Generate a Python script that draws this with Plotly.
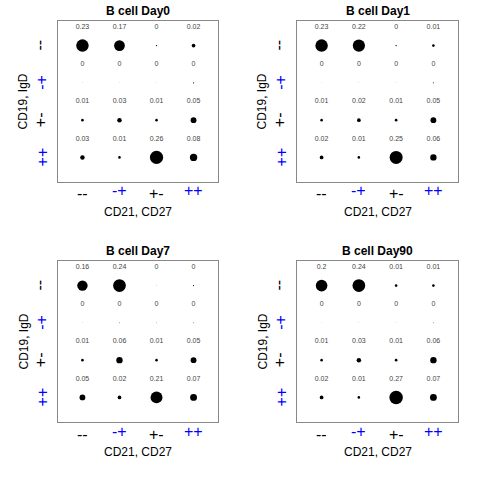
import numpy as np
import plotly.graph_objects as go

# categories (same for both axes)
cats = ["--", "-+", "+-", "++"]
cat_colors = ["black", "blue", "black", "blue"]
titles = ["B cell Day0", "B cell Day1", "B cell Day7", "B cell Day90"]

# fractions, rows = CD19,IgD ; cols = CD21,CD27 (tiny values)
day0 = [[0.23, 0.17, 0.003, 0.02],
        [0.0003, 0.0003, 0.0003, 0.002],
        [0.01, 0.03, 0.01, 0.05],
        [0.03, 0.01, 0.26, 0.08]]
day1 = [[0.23, 0.22, 0.003, 0.01],
        [0.0003, 0.0003, 0.0003, 0.0015],
        [0.01, 0.02, 0.01, 0.05],
        [0.02, 0.01, 0.25, 0.06]]
day7 = [[0.16, 0.24, 0.0003, 0.002],
        [0.0003, 0.001, 0.0005, 0.001],
        [0.01, 0.06, 0.01, 0.05],
        [0.05, 0.02, 0.21, 0.07]]
day90 = [[0.2, 0.24, 0.01, 0.01],
         [0.0003, 0.0003, 0.0003, 0.001],
         [0.01, 0.03, 0.01, 0.06],
         [0.02, 0.01, 0.27, 0.07]]
panels = [day0, day1, day7, day90]

FONT = "Liberation Sans, Arial, sans-serif"
W = H = 480
# panel boxes in pixels (left, right, top, bottom)
boxes = [(58, 218, 21, 182), (297, 458, 21, 182),
         (58, 218, 261, 422), (297, 458, 261, 422)]

fig = go.Figure()
annotations = []


def note(**kw):
    kw.setdefault("showarrow", False)
    kw.setdefault("xanchor", "center")
    kw.setdefault("yanchor", "middle")
    annotations.append(kw)


for k, (vals, title, box) in enumerate(zip(panels, titles, boxes)):
    n = "" if k == 0 else str(k + 1)
    xa, ya = "x" + n, "y" + n
    v = np.array(vals)
    rows, cols = np.meshgrid(np.arange(1, 5), np.arange(1, 5), indexing="ij")
    xs, ys, vv = cols.ravel(), rows.ravel(), v.ravel()

    fig.add_trace(go.Scatter(
        x=xs, y=ys, mode="markers", xaxis=xa, yaxis=ya,
        marker=dict(size=26 * np.sqrt(vv), color="black", opacity=1,
                    line=dict(width=0)),
        hoverinfo="skip", showlegend=False))
    fig.add_trace(go.Scatter(
        x=xs, y=ys - 0.5, mode="text", xaxis=xa, yaxis=ya,
        text=[f"{round(x, 2):g}" for x in vv],
        textfont=dict(size=7, color="#444444", family=FONT),
        hoverinfo="skip", showlegend=False))

    l, r, t, b = box
    fig.update_layout({
        "xaxis" + n: dict(domain=[l / W, r / W], range=[0.34, 4.66],
                          showticklabels=False, showgrid=False, zeroline=False,
                          showline=True, mirror=True, linecolor="#888888",
                          linewidth=1, ticks="", anchor=ya, fixedrange=True),
        "yaxis" + n: dict(domain=[1 - b / H, 1 - t / H], range=[4.66, 0.34],
                          showticklabels=False, showgrid=False, zeroline=False,
                          showline=True, mirror=True, linecolor="#888888",
                          linewidth=1, ticks="", anchor=xa, fixedrange=True),
    })

    # panel title
    note(text="<b>" + title + "</b>", xref=xa + " domain", x=0.5,
         yref=ya + " domain", y=1, yshift=10,
         font=dict(size=12, color="black", family=FONT))
    # axis titles
    note(text="CD21, CD27", xref=xa + " domain", x=0.5,
         yref=ya + " domain", y=0, yshift=-30,
         font=dict(size=12, color="black", family=FONT))
    note(text="CD19, IgD", xref=xa + " domain", x=0, xshift=-35,
         yref=ya + " domain", y=0.5, textangle=-90,
         font=dict(size=12, color="black", family=FONT))
    # category labels
    for i, (c, col) in enumerate(zip(cats, cat_colors)):
        off = 9 if col == "blue" else 12
        note(text=c, xref=xa, x=i + 1, yref=ya + " domain", y=0, yshift=-off,
             font=dict(size=16, color=col, family=FONT))
        offy = 16 if col == "blue" else 18
        note(text=c, xref=xa + " domain", x=0, xshift=-offy,
             yref=ya, y=i + 1, textangle=-90,
             font=dict(size=16, color=col, family=FONT))

fig.update_layout(width=W, height=H, margin=dict(l=0, r=0, t=0, b=0),
                  paper_bgcolor="white", plot_bgcolor="white",
                  annotations=annotations, font=dict(family=FONT))

# drop the page's default 8px body margin so the figure fills the window
fig.write_html("out.html", config={"displayModeBar": False},
               post_script="document.body.style.margin='0';")
